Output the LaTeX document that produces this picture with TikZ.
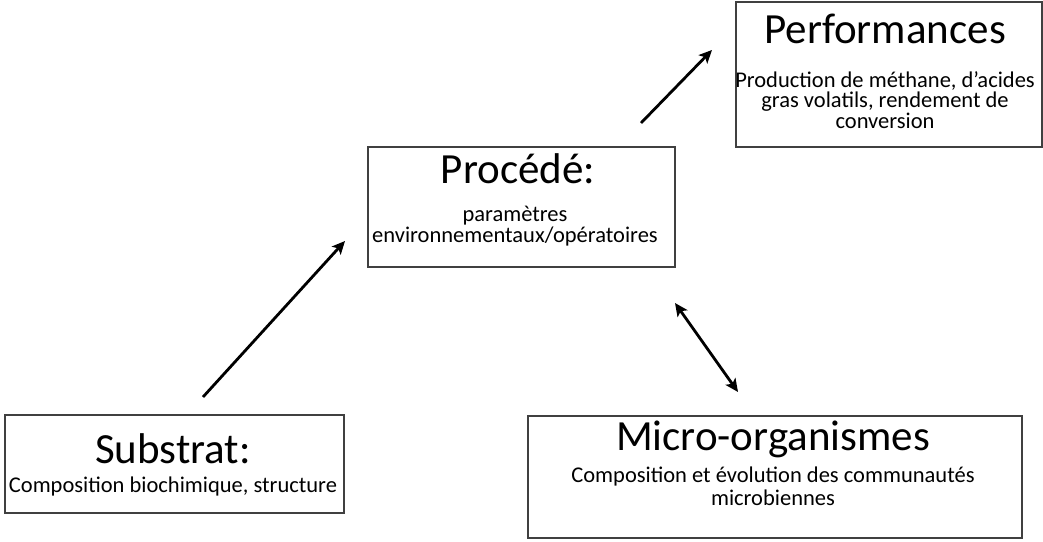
\documentclass[tikz,border=0pt]{standalone}
\usepackage{fontspec}
\setmainfont{Carlito}
\usetikzlibrary{arrows.meta}
\definecolor{bord}{HTML}{404040}
\tikzset{
  box/.style={draw=bord, line width=1.3pt, inner sep=0pt},
  titre/.style={anchor=base, inner sep=0pt, font=\fontsize{43}{43}\selectfont},
  sous/.style={anchor=base, inner sep=0pt, align=center, font=\fontsize{22.5}{20.5}\selectfont},
  fleche/.style={line width=2.8pt, -{Stealth[length=13pt,width=12pt,inset=3pt]}}
}
\begin{document}
\begin{tikzpicture}[x=1pt,y=-1pt]
  \useasboundingbox (0,0) rectangle (1043,541);
  % boites
  \node[box, minimum width=306pt, minimum height=145pt] (perf) at (889,74.5) {};
  \node[box, minimum width=307pt, minimum height=120pt] (proc) at (521.5,207) {};
  \node[box, minimum width=339pt, minimum height=98pt] (sub) at (174.5,464) {};
  \node[box, minimum width=494pt, minimum height=122pt] (micro) at (775,477) {};
  % textes (ancre base = derniere ligne)
  \node[titre] (perft) at (885,43) {Performances};
  \node[sous] (perfs) at (885,128) {Production de méthane, d’acides\\gras volatils, rendement de\\conversion};
  \node[titre] (proct) at (518,183) {Procédé:};
  \node[sous] (procs) at (515,242) {paramètres\\environnementaux/opératoires};
  \node[titre] (subt) at (173,463) {Substrat:};
  \node[sous] (subs) at (173,492) {Composition biochimique, structure};
  \node[titre] (microt) at (773,450) {Micro-organismes};
  \node[sous, font=\fontsize{22.5}{23}\selectfont] (micros) at (773,505) {Composition et évolution des communautés\\microbiennes};
  % fleches
  \coordinate (s1) at (203,397);
  \coordinate (p1) at (345,241);
  \coordinate (p2) at (641,123);
  \coordinate (f2) at (712,50);
  \coordinate (p3) at (675,303);
  \coordinate (m3) at (738,392);
  \draw[fleche] (s1) -- (p1);
  \draw[fleche] (p2) -- (f2);
  \draw[fleche, {Stealth[length=13pt,width=12pt,inset=3pt]}-{Stealth[length=13pt,width=12pt,inset=3pt]}] (p3) -- (m3);
\end{tikzpicture}
\end{document}
